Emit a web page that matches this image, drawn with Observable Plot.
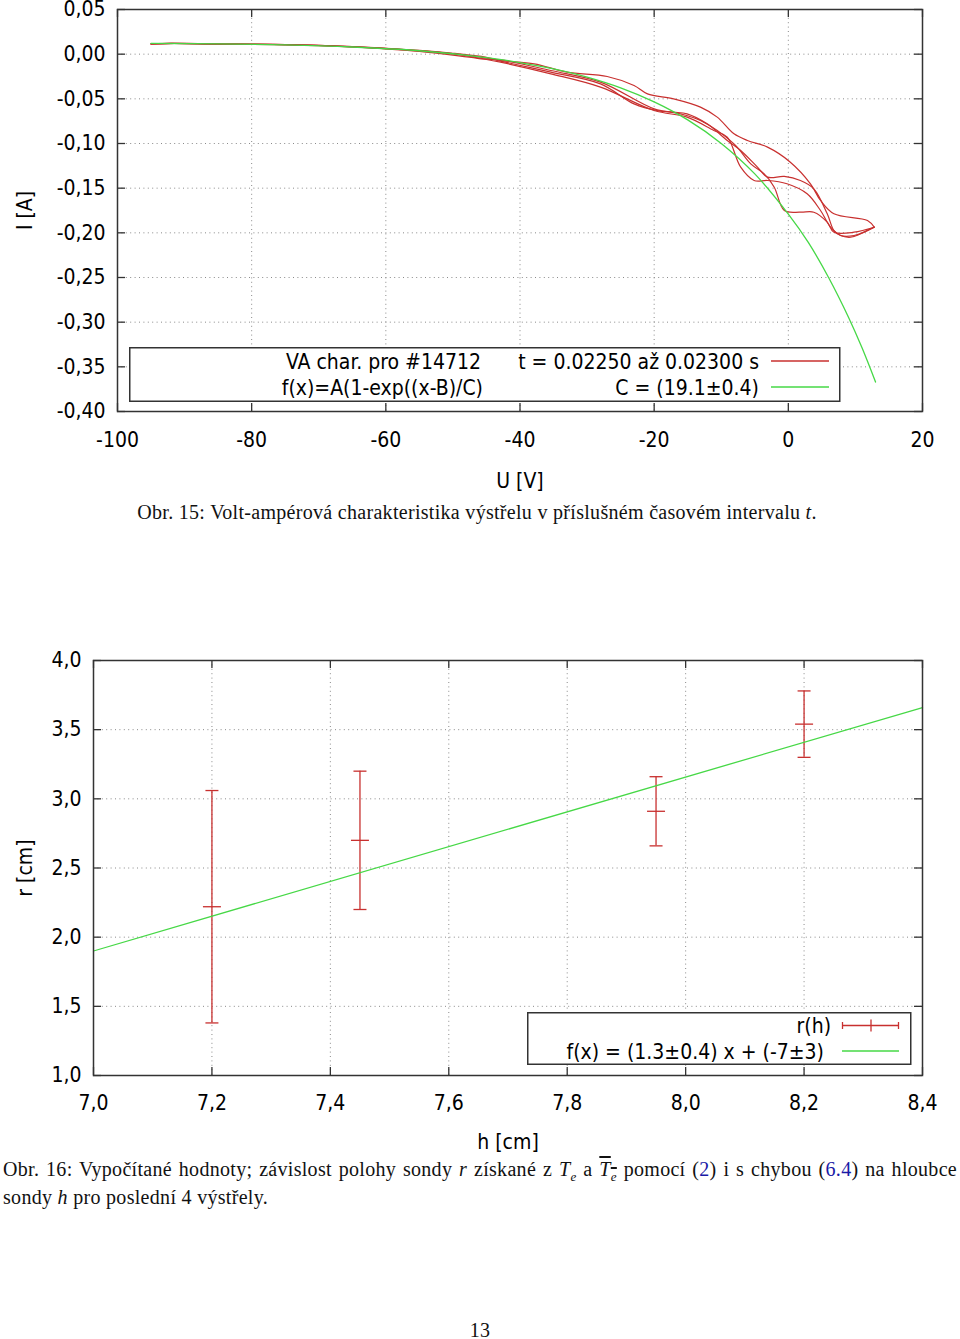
<!DOCTYPE html>
<html>
<head>
<meta charset="utf-8">
<script src="https://cdn.jsdelivr.net/npm/d3@7"></script>
<script src="https://cdn.jsdelivr.net/npm/@observablehq/plot@0.6"></script>
<style>
  html, body { margin: 0; padding: 0; background: #fff; }
  body { position: relative; width: 960px; height: 1339px; overflow: hidden; }
  .abs { position: absolute; }
  .cap { font-family: "Liberation Serif", "DejaVu Serif", serif; font-size: 20px; letter-spacing: 0.3px; color: #111; }
  .cap sub { font-size: 13px; line-height: 0; }
  .leg text { font-family: "DejaVu Sans Condensed", "DejaVu Sans", sans-serif; font-size: 21px; fill: #000; }
</style>
</head>
<body>
<script>
// ---------- Chart 1 data ----------
const xTicks1 = [-100, -80, -60, -40, -20, 0, 20];
const yTicks1 = [0.05, 0.00, -0.05, -0.10, -0.15, -0.20, -0.25, -0.30, -0.35, -0.40];

// fit f(x)=A(1-exp((x-B)/C)), values
const fitU = [-95, -85, -75, -65, -55, -45, -40, -35, -30, -25, -20, -15, -10, -5, 0, 3, 6, 9, 11, 13];
const fitI = [0.0120, 0.0115, 0.0104, 0.0080, 0.0038, -0.0038, -0.0094, -0.0165, -0.0257, -0.0377, -0.0534, -0.0736, -0.0999, -0.134, -0.179, -0.211, -0.250, -0.295, -0.329, -0.367];

// measured VA sweeps [U, I]
const sweep1 = [[-95,0.0115],[-92,0.0122],[-88,0.0118],[-84,0.0114],[-80,0.0112],[-75,0.0108],[-70,0.0100],[-65,0.0086],[-60,0.0066],[-55,0.0042],[-50,0.0010],[-45,-0.0035],
  [-42.9,-0.0071],[-37.9,-0.0108],[-33.0,-0.0201],[-27.0,-0.0250],[-23.0,-0.0351],[-21.0,-0.0444],[-17.1,-0.0500],[-13.1,-0.0593],[-10.6,-0.0705],[-8.1,-0.0892],[-6.1,-0.0966],[-3.1,-0.1041],[0.3,-0.1209],[3.3,-0.1451],[4.8,-0.1638],[6.8,-0.1787],[11.8,-0.1862],[12.8,-0.1937]];
const sweep2 = [[-95,0.0116],[-92,0.0120],[-88,0.0116],[-84,0.0113],[-80,0.0111],[-75,0.0106],[-70,0.0098],[-65,0.0082],[-60,0.0062],[-55,0.0036],[-50,0.0002],[-45,-0.0045],
  [-42.9,-0.0078],[-35.4,-0.0201],[-28.0,-0.0332],[-23.0,-0.0556],[-19.5,-0.0631],[-17.1,-0.0649],[-15.1,-0.0668],[-12.1,-0.0780],[-9.1,-0.0966],[-7.1,-0.1078],[-4.6,-0.1265],[-3.1,-0.1377],[-0.6,-0.1369],[1.8,-0.1414],[3.8,-0.1507],[5.8,-0.1787],[6.8,-0.1974],[7.8,-0.2030],[9.8,-0.2030],[12.3,-0.1955],[12.8,-0.1937]];
const sweep3 = [[-95,0.0114],[-92,0.0119],[-88,0.0117],[-84,0.0113],[-80,0.0110],[-75,0.0107],[-70,0.0097],[-65,0.0084],[-60,0.0064],[-55,0.0040],[-50,0.0005],[-45,-0.0055],
  [-42.9,-0.0063],[-35.4,-0.0183],[-28.0,-0.0313],[-20.0,-0.0612],[-16.1,-0.0668],[-13.1,-0.0743],[-8.1,-0.1004],[-5.6,-0.1228],[-3.6,-0.1340],[-2.1,-0.1489],[-0.6,-0.1750],[1.8,-0.1769],[3.8,-0.1769],[5.8,-0.1881],[6.8,-0.1993],[9.8,-0.1993],[12.8,-0.1937]];
const sweep4 = [[-95,0.0115],[-92,0.0121],[-88,0.0117],[-84,0.0112],[-80,0.0111],[-75,0.0105],[-70,0.0096],[-65,0.0080],[-60,0.0060],[-55,0.0032],[-50,-0.0010],[-45,-0.0060],
  [-42.9,-0.0090],[-35.4,-0.0220],[-28.0,-0.0369],[-20.0,-0.0631],[-15.1,-0.0705],[-11.1,-0.0854],[-9.1,-0.0929],[-7.1,-0.1265],[-5.1,-0.1414],[-3.1,-0.1414],[-0.2,-0.1451],[2.8,-0.1563],[4.8,-0.1750],[6.3,-0.1937],[7.8,-0.2030],[9.3,-0.2049],[10.8,-0.2011],[12.8,-0.1937]];

// ---------- Chart 2 data ----------
const xTicks2 = [7.0, 7.2, 7.4, 7.6, 7.8, 8.0, 8.2, 8.4];
const yTicks2 = [1.0, 1.5, 2.0, 2.5, 3.0, 3.5, 4.0];
const depthH = [7.2, 7.45, 7.95, 8.2];
const radiusR = [2.22, 2.70, 2.91, 3.54];
const radiusErr = [0.84, 0.50, 0.25, 0.24];
const lineH = [7.0, 8.4];
const lineR = [1.90, 3.66];

// ---------- helpers ----------
const RED = "#c8302f";
const GREEN = "#46d846";
const FRAME = "#333";
const GRIDC = "#8a8a8a";
const fmt = p => d => d3.format(`.${p}f`)(d).replace("\u2212", "-").replace(".", ",");
const SANS = "'DejaVu Sans Condensed', 'DejaVu Sans', sans-serif";
const hbar = { draw(ctx, size) { const w = Math.sqrt(size / Math.PI); ctx.moveTo(-w, 0); ctx.lineTo(w, 0); } };

function frameMarks(xTicks, yTicks, plotW, plotH) {
  const gx = xTicks.slice(1, -1), gy = yTicks.slice(1, -1);
  const L = 8;
  return [
    Plot.gridX(gx, {stroke: GRIDC, strokeOpacity: 1, strokeWidth: 1, strokeDasharray: "1,3.4"}),
    Plot.gridY(gy, {stroke: GRIDC, strokeOpacity: 1, strokeWidth: 1, strokeDasharray: "1,3.4"}),
    Plot.tickX(xTicks, {x: d => d, insetTop: plotH - L, stroke: FRAME, strokeWidth: 1.3}),
    Plot.tickX(xTicks, {x: d => d, insetBottom: plotH - L, stroke: FRAME, strokeWidth: 1.3}),
    Plot.tickY(yTicks, {y: d => d, insetRight: plotW - L, stroke: FRAME, strokeWidth: 1.3}),
    Plot.tickY(yTicks, {y: d => d, insetLeft: plotW - L, stroke: FRAME, strokeWidth: 1.3})
  ];
}

// ---------- Chart 1 ----------
{
  const mL = 117, mR = 38, mT = 9, mB = 80, W = 960, H = 491;
  const fitRows = fitU.map((u, i) => ({u, i: fitI[i]}));
  const sweepRows = [sweep1, sweep2, sweep3, sweep4].flatMap((s, k) => s.map(([u, i]) => ({u, i, k})));
  const chart = Plot.plot({
    width: W, height: H, marginLeft: mL, marginRight: mR, marginTop: mT, marginBottom: mB,
    style: {fontFamily: SANS, fontSize: "21px", color: "#000", background: "transparent", overflow: "visible"},
    x: {domain: [-100, 20]},
    y: {domain: [-0.40, 0.05]},
    marks: [
      ...frameMarks(xTicks1, yTicks1, W - mL - mR, H - mT - mB),
      Plot.line(sweepRows, {x: "u", y: "i", z: "k", stroke: RED, strokeWidth: 1.2, curve: "catmull-rom"}),
      Plot.line(fitRows, {x: "u", y: "i", stroke: GREEN, strokeWidth: 1.3, curve: "catmull-rom"}),
      Plot.frame({stroke: FRAME, strokeWidth: 1.5}),
      Plot.axisX(xTicks1, {tickSize: 0, tickPadding: 21, tickFormat: fmt(0), fontSize: 21, label: null}),
      Plot.axisY(yTicks1, {tickSize: 0, tickPadding: 12, tickFormat: fmt(2), fontSize: 21, label: null}),
      Plot.text(["U [V]"], {frameAnchor: "bottom", dy: 76, text: d => d, fontSize: 21}),
      Plot.text(["I [A]"], {frameAnchor: "left", dx: -92, rotate: -90, textAnchor: "middle", text: d => d, fontSize: 21})
    ]
  });
  chart.classList.add("abs");
  chart.style.left = "0px"; chart.style.top = "0px"; chart.style.overflow = "visible";
  document.body.appendChild(chart);
}

// ---------- Chart 2 ----------
{
  const mL = 93, mR = 38, mT = 20, mB = 85, W = 960, H = 520;
  const pts = depthH.map((h, j) => ({h, r: radiusR[j], lo: radiusR[j] - radiusErr[j], hi: radiusR[j] + radiusErr[j]}));
  const lineRows = lineH.map((h, j) => ({h, r: lineR[j]}));
  const chart = Plot.plot({
    width: W, height: H, marginLeft: mL, marginRight: mR, marginTop: mT, marginBottom: mB,
    style: {fontFamily: SANS, fontSize: "21px", color: "#000", background: "transparent", overflow: "visible"},
    x: {domain: [7.0, 8.4]},
    y: {domain: [1.0, 4.0]},
    marks: [
      ...frameMarks(xTicks2, yTicks2, W - mL - mR, H - mT - mB),
      Plot.ruleX(pts, {x: "h", y1: "lo", y2: "hi", stroke: RED, strokeWidth: 1.3}),
      Plot.dot(pts, {x: "h", y: "hi", symbol: hbar, r: 6.5, stroke: RED, strokeWidth: 1.3, fill: "none"}),
      Plot.dot(pts, {x: "h", y: "lo", symbol: hbar, r: 6.5, stroke: RED, strokeWidth: 1.3, fill: "none"}),
      Plot.dot(pts, {x: "h", y: "r", symbol: hbar, r: 9, stroke: RED, strokeWidth: 1.3, fill: "none"}),
      Plot.line(lineRows, {x: "h", y: "r", stroke: GREEN, strokeWidth: 1.3}),
      Plot.frame({stroke: FRAME, strokeWidth: 1.5}),
      Plot.axisX(xTicks2, {tickSize: 0, tickPadding: 20, tickFormat: fmt(1), fontSize: 21, label: null}),
      Plot.axisY(yTicks2, {tickSize: 0, tickPadding: 12, tickFormat: fmt(1), fontSize: 21, label: null}),
      Plot.text(["h [cm]"], {frameAnchor: "bottom", dy: 73, text: d => d, fontSize: 21}),
      Plot.text(["r [cm]"], {frameAnchor: "left", dx: -68, rotate: -90, textAnchor: "middle", text: d => d, fontSize: 21})
    ]
  });
  chart.classList.add("abs");
  chart.style.left = "0px"; chart.style.top = "640px"; chart.style.overflow = "visible";
  document.body.appendChild(chart);
}
</script>

<!-- legend chart 1 -->
<svg class="abs leg" style="left:129px; top:347px" width="712" height="56">
  <rect x="0.75" y="0.75" width="710" height="53.5" fill="#fff" stroke="#333" stroke-width="1.5"/>
  <text x="352" y="15" text-anchor="end" dominant-baseline="central">VA char. pro #14712</text>
  <text x="630" y="15" text-anchor="end" dominant-baseline="central">t = 0.02250 až 0.02300 s</text>
  <line x1="642" x2="700" y1="14" y2="14" stroke="#c8302f" stroke-width="1.3"/>
  <text x="354" y="41" text-anchor="end" dominant-baseline="central">f(x)=A(1-exp((x-B)/C)</text>
  <text x="630" y="41" text-anchor="end" dominant-baseline="central">C = (19.1±0.4)</text>
  <line x1="642" x2="700" y1="40" y2="40" stroke="#46d846" stroke-width="1.3"/>
</svg>

<div class="abs cap" style="left:0; top:501px; width:954px; text-align:center; line-height:22px;">Obr. 15: Volt-ampérová charakteristika výstřelu v příslušném časovém intervalu <i>t</i>.</div>

<!-- legend chart 2 -->
<svg class="abs leg" style="left:527px; top:1012px" width="386" height="54">
  <rect x="0.75" y="0.75" width="383" height="51.5" fill="#fff" stroke="#333" stroke-width="1.5"/>
  <text x="304" y="14" text-anchor="end" dominant-baseline="central">r(h)</text>
  <line x1="315" x2="372" y1="13.5" y2="13.5" stroke="#c8302f" stroke-width="1.3"/>
  <line x1="315.5" x2="315.5" y1="10" y2="17" stroke="#c8302f" stroke-width="1.3"/>
  <line x1="371.5" x2="371.5" y1="10" y2="17" stroke="#c8302f" stroke-width="1.3"/>
  <line x1="344" x2="344" y1="7.5" y2="19.5" stroke="#c8302f" stroke-width="1.3"/>
  <text x="297" y="40" text-anchor="end" dominant-baseline="central">f(x) = (1.3±0.4) x + (-7±3)</text>
  <line x1="315" x2="372" y1="39" y2="39" stroke="#46d846" stroke-width="1.3"/>
</svg>

<div class="abs cap" style="left:3px; top:1155px; width:954px; line-height:28px;">
  <div style="text-align:justify; text-align-last:justify;">Obr. 16: Vypočítané hodnoty; závislost polohy sondy <i>r</i> získané z <i>T</i><sub><i>e</i></sub> a <span style="text-decoration:overline"><i>T</i><sub><i>e</i></sub></span> pomocí (<span style="color:#1a1aa6">2</span>) i s chybou (<span style="color:#1a1aa6">6.4</span>) na hloubce</div>
  <div>sondy <i>h</i> pro poslední 4 výstřely.</div>
</div>

<div class="abs cap" style="left:0; top:1319px; width:960px; text-align:center; line-height:22px;">13</div>
</body>
</html>
